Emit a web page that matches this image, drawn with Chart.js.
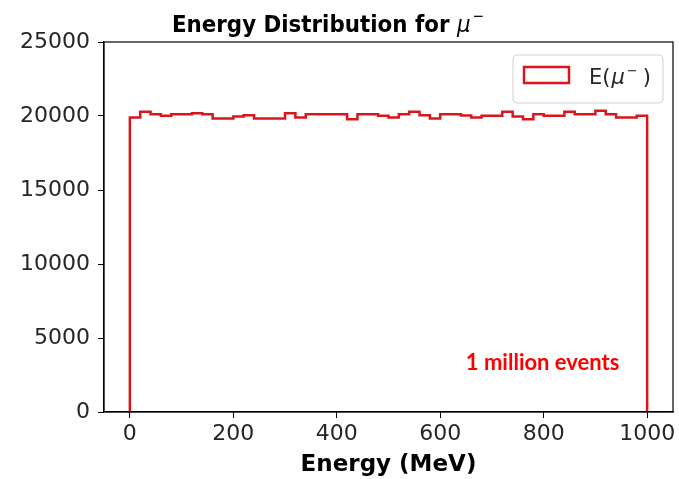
<!DOCTYPE html>
<html>
<head>
<meta charset="utf-8">
<script src="https://cdn.jsdelivr.net/npm/chart.js@4.4.1/dist/chart.umd.min.js"></script>
<style>
html, body { margin: 0; padding: 0; background: #fff; }
</style>
</head>
<body>
<canvas id="myChart" width="679" height="479"></canvas>
<script>
// bin edges (MeV) and counts per bin
const binEdges = [0, 20, 40, 60, 80, 100, 120, 140, 160, 180, 200, 220, 240, 260, 280, 300, 320, 340, 360, 380,
    400, 420, 440, 460, 480, 500, 520, 540, 560, 580, 600, 620, 640, 660, 680, 700, 720, 740, 760, 780,
    800, 820, 840, 860, 880, 900, 920, 940, 960, 980, 1000]
const counts = [19900, 20280, 20120, 20010, 20120, 20120, 20190, 20120, 19830, 19830,
    19960, 20050, 19830, 19830, 19830, 20190, 19900, 20120, 20120, 20120,
    20120, 19780, 20120, 20120, 20010, 19900, 20120, 20280, 20050, 19830,
    20120, 20120, 20030, 19900, 20010, 20010, 20280, 19960, 19780, 20120,
    20010, 20010, 20280, 20120, 20120, 20350, 20120, 19900, 19900, 20010]
const xTicks = [0, 200, 400, 600, 800, 1000]
const yTicks = [0, 5000, 10000, 15000, 20000, 25000]
const seriesLabel = 'E(μ⁻)'
const note = '1 million events'

const red = 'rgb(218, 22, 28)'
const textColor = '#262626'

// histogram outline as a stepped line
let outline = [{ x: binEdges[0], y: 0 }]
counts.forEach((c, i) => outline.push({ x: binEdges[i], y: c }))
outline.push({ x: binEdges[binEdges.length - 1], y: counts[counts.length - 1] })
outline.push({ x: binEdges[binEdges.length - 1], y: 0 })

// draws text pieces one after another: [text, font, dy, gap]
function drawPieces(c, pieces, x, y) {
    pieces.forEach(p => {
        c.font = p[1]
        c.fillText(p[0], x, y + (p[2] || 0))
        x += c.measureText(p[0]).width + (p[3] || 0)
    })
}
function piecesWidth(c, pieces) {
    let w = 0
    pieces.forEach(p => { c.font = p[1]; w += c.measureText(p[0]).width + (p[3] || 0) })
    return w
}

const decorations = {
    id: 'decorations',
    afterDraw(chart) {
        const c = chart.ctx
        const a = chart.chartArea
        const xs = chart.scales.x, ys = chart.scales.y
        c.save()

        // frame
        c.strokeStyle = '#000'
        c.lineWidth = 1.2
        c.strokeRect(a.left, a.top, a.right - a.left, a.bottom - a.top)

        // title with math part
        const title = [
            ['Energy Distribution for ', 'bold 23px "DejaVu Sans"', 0],
            ['μ', 'italic 23px "DejaVu Sans"', 0, 2],
            ['−', '15px "DejaVu Sans"', -11]
        ]
        c.fillStyle = '#000'
        c.textBaseline = 'alphabetic'
        c.save()
        c.translate(328, 32)
        c.scale(0.93, 1)
        drawPieces(c, title, -piecesWidth(c, title) / 2, 0)
        c.restore()

        // legend
        const lw = 150, lh = 48
        const lx = a.right - 10 - lw, ly = a.top + 13
        c.beginPath()
        c.roundRect(lx, ly, lw, lh, 4)
        c.fillStyle = 'rgba(255,255,255,0.8)'
        c.fill()
        c.strokeStyle = '#d0d0d0'
        c.lineWidth = 1
        c.stroke()
        c.strokeStyle = red
        c.lineWidth = 2.5
        c.strokeRect(lx + 11, ly + 12, 45, 16)
        c.fillStyle = textColor
        c.textBaseline = 'alphabetic'
        drawPieces(c, [
            ['E(', '21px "DejaVu Sans"', 0, 1],
            ['μ', 'italic 21px "DejaVu Sans"', 0, 2],
            ['−', '13px "DejaVu Sans"', -9, 5],
            [')', '21px "DejaVu Sans"', 0]
        ], lx + 76, ly + 29)

        // note
        c.fillStyle = '#ff0000'
        c.font = 'bold 22px Lato'
        c.textAlign = 'center'
        c.textBaseline = 'middle'
        c.fillText(note, xs.getPixelForValue(798), ys.getPixelForValue(3350))
        c.restore()
    }
}

const ctx = document.getElementById('myChart').getContext('2d');
new Chart(ctx, {
    type: 'line',
    data: {
        datasets: [{
            label: seriesLabel,
            data: outline,
            borderColor: red,
            borderWidth: 2.5,
            pointRadius: 0,
            fill: false,
            stepped: 'before'
        }]
    },
    options: {
        responsive: false,
        animation: false,
        devicePixelRatio: 1,
        layout: { padding: { top: 42, right: 6, left: 0, bottom: 0 } },
        plugins: {
            legend: { display: false },
            tooltip: { enabled: false }
        },
        scales: {
            x: {
                type: 'linear',
                min: -50,
                max: 1050,
                afterFit: s => { s.height = 67 },
                afterBuildTicks: s => { s.ticks = xTicks.map(v => ({ value: v })) },
                grid: { drawOnChartArea: false, drawTicks: true, tickLength: 6, color: '#000' },
                border: { display: true, color: '#000', width: 1.2 },
                ticks: {
                    color: textColor, font: { family: 'DejaVu Sans', size: 22 }, padding: 3, maxRotation: 0,
                    callback: v => String(v)
                },
                title: {
                    display: true,
                    text: 'Energy (MeV)',
                    color: '#000',
                    font: { family: 'DejaVu Sans', size: 23, weight: 'bold' },
                    padding: { top: 0, bottom: 0 }
                }
            },
            y: {
                min: 0,
                max: 25000,
                afterFit: s => { s.width = 104 },
                afterBuildTicks: s => { s.ticks = yTicks.map(v => ({ value: v })) },
                grid: { drawOnChartArea: false, drawTicks: true, tickLength: 6, color: '#000' },
                border: { display: true, color: '#000', width: 1.2 },
                ticks: {
                    color: textColor, font: { family: 'DejaVu Sans', size: 22 }, padding: 8,
                    callback: v => String(v)
                }
            }
        }
    },
    plugins: [decorations]
})
</script>
</body>
</html>
